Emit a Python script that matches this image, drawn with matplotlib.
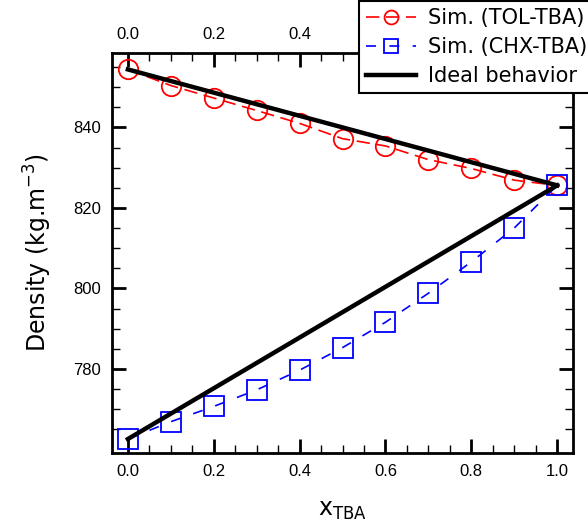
import numpy as np
import matplotlib.pyplot as plt
from matplotlib.ticker import MultipleLocator, FixedLocator

# fracao molar de TBA e densidades simuladas
x_tba = [0.0, 0.1, 0.2, 0.3, 0.4, 0.5, 0.6, 0.7, 0.8, 0.9, 1.0]
rho_tol = [854.4, 850.4, 847.3, 844.2, 841.0, 837.2, 835.4, 832.0, 829.8, 826.9, 825.6]
rho_chx = [762.6, 766.9, 770.7, 774.8, 779.7, 785.3, 791.6, 798.8, 806.6, 815.0, 825.6]

# comportamento ideal: reta entre os componentes puros
x_ideal = [0.0, 1.0]
ideal_tol = [854.4, 825.6]
ideal_chx = [762.6, 825.6]

plt.rcParams['font.family'] = ['Liberation Sans', 'DejaVu Sans']

fig = plt.figure(figsize=(5.88, 5.28), dpi=100)
ax = fig.add_axes([0.1905, 0.1426, 0.784, 0.7564])

l1, = ax.plot(x_tba, rho_tol, color='red', lw=1.2, dashes=(8, 4),
              marker='o', ms=14, mfc='none', mec='red', mew=1.3,
              label='Sim. (TOL-TBA)')
l2, = ax.plot(x_tba, rho_chx, color='blue', lw=1.2, dashes=(6, 8),
              marker='s', ms=15, mfc='none', mec='blue', mew=1.3,
              label='Sim. (CHX-TBA)')
l3, = ax.plot(x_ideal, ideal_tol, color='black', lw=3.2, label='Ideal behavior',
              zorder=3)
ax.plot(x_ideal, ideal_chx, color='black', lw=3.2, zorder=3)

ax.set_xlim(-0.037, 1.037)
ax.set_ylim(759.2, 858.4)
ax.xaxis.set_major_locator(MultipleLocator(0.2))
ax.xaxis.set_minor_locator(MultipleLocator(0.05))
ax.yaxis.set_major_locator(FixedLocator([780, 800, 820, 840]))
ax.yaxis.set_minor_locator(FixedLocator(np.arange(765, 860, 5)))
ax.xaxis.set_major_formatter(lambda v, p: f'{v:.1f}')

ax.tick_params(which='both', direction='in', top=True, right=True,
               labeltop=True, labelsize=12, pad=8)
ax.tick_params(which='major', length=10, width=2)
ax.tick_params(which='minor', length=5.5, width=1)
for s in ax.spines.values():
    s.set_linewidth(2)

ax.set_ylabel('Density (kg.m$^{-3}$)', fontsize=17, family='DejaVu Sans',
              labelpad=14)
ax.set_xlabel('x$_{\\mathregular{TBA}}$', fontsize=17, family='DejaVu Sans',
              labelpad=14)

leg = fig.legend(handles=[l1, l2, l3], loc='upper left',
                 bbox_to_anchor=(359 / 588, 1 - 1 / 528), borderaxespad=0,
                 frameon=True, fancybox=False, edgecolor='black', framealpha=1,
                 handlelength=2.4, handletextpad=0.55, borderpad=0.35,
                 labelspacing=0.42, prop={'family': 'DejaVu Sans', 'size': 15})
leg.get_frame().set_linewidth(1.5)
for h in leg.legend_handles[:2]:
    h.set_markersize(10)

fig.savefig('out.png', dpi=100)
